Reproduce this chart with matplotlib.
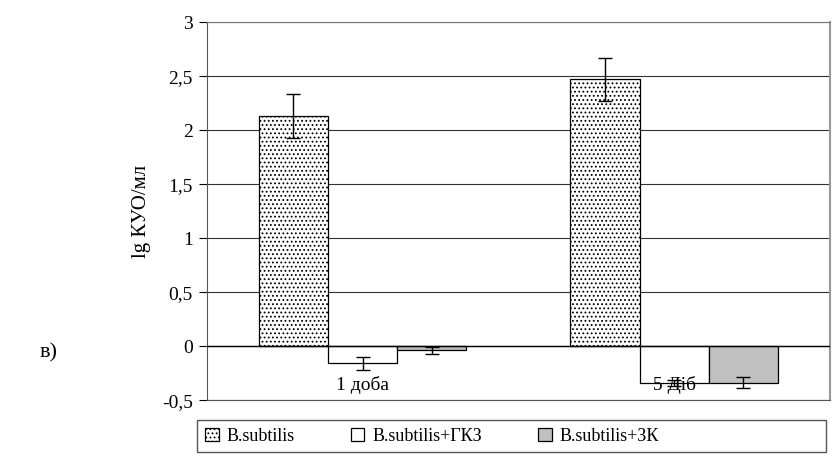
import matplotlib.pyplot as plt
from matplotlib.patches import Rectangle
import numpy as np

categories = ["1 доба", "5 Діб"]
series_names = ["B.subtilis", "B.subtilis+ГКЗ", "B.subtilis+ЗК"]
values = [
    [2.13, 2.47],
    [-0.16, -0.34],
    [-0.04, -0.34],
]
errors = [
    [0.20, 0.20],
    [0.06, 0.03],
    [0.03, 0.05],
]
yticks = [-0.5, 0, 0.5, 1, 1.5, 2, 2.5, 3]
ytick_labels = ["-0,5", "0", "0,5", "1", "1,5", "2", "2,5", "3"]

plt.rcParams['font.family'] = ['Liberation Serif', 'DejaVu Serif']
plt.rcParams['hatch.color'] = '#555555'
plt.rcParams['hatch.linewidth'] = 0.8

fig = plt.figure(figsize=(8.34, 4.61), dpi=100)
ax = fig.add_axes([0.248, 0.132, 0.747, 0.820])

x = np.arange(len(categories))
width = 0.222
colors = ['white', 'white', '#c0c0c0']
hatches = ['....', None, None]

for i in range(3):
    ax.bar(x + (i - 1) * width, values[i], width, yerr=errors[i],
           color=colors[i], edgecolor='black', linewidth=0.9,
           hatch=hatches[i], label=series_names[i], zorder=3,
           error_kw=dict(ecolor='black', elinewidth=1, capsize=5, capthick=1))

ax.set_xlim(-0.5, 1.5)
ax.set_ylim(-0.5, 3)
ax.set_yticks(yticks)
ax.set_yticklabels(ytick_labels, fontsize=14)
ax.set_xticks([])
ax.grid(axis='y', color='#333333', linewidth=0.8, zorder=0)
ax.axhline(0, color='black', linewidth=1, zorder=4)
ax.tick_params(axis='y', direction='out', length=6, width=0.8, pad=4)

ax.spines['top'].set_color('#777777')
ax.spines['bottom'].set_color('#555555')
ax.spines['left'].set_color('#555555')
ax.spines['right'].set_color('#999999')
ax.spines['right'].set_linewidth(1.5)

for xi, cat in zip(x, categories):
    ax.text(xi, -0.36, cat, ha='center', va='center', fontsize=14, zorder=5)

ax.set_ylabel("lg КУО/мл", fontsize=15, labelpad=8)

fig.text(0.048, 0.235, "в)", fontsize=16, ha='left', va='center')

# legend box
fig.patches.append(Rectangle((197 / 834, 1 - 452 / 461), 629 / 834, 32 / 461,
                             transform=fig.transFigure, facecolor='white',
                             edgecolor='#555555', linewidth=1.0))
leg = fig.legend(loc='center left', bbox_to_anchor=(0.246, 1 - 436 / 461),
                 ncol=3, fontsize=13, frameon=False,
                 handlelength=0.75, handleheight=0.75, borderaxespad=0,
                 borderpad=0, columnspacing=3.1, handletextpad=0.45)

fig.savefig("out.png", dpi=100)
